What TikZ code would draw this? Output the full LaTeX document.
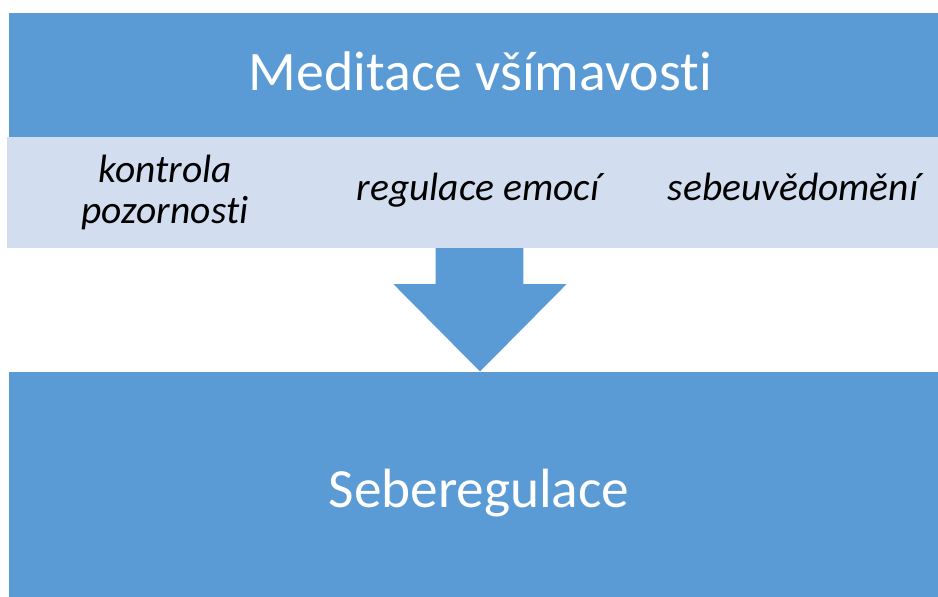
\documentclass[tikz,border=0pt]{standalone}
\usepackage{fontspec}
\setmainfont{Carlito}[Ligatures={NoCommon}]
\definecolor{mainblue}{HTML}{5B9BD5}
\definecolor{lightband}{HTML}{D2DEEF}
\begin{document}
\begin{tikzpicture}[x=1pt,y=-1pt,
  bigtext/.style={text=white,font=\fontsize{55.8}{60}\selectfont,anchor=base,inner sep=0},
  smalltext/.style={text=black,font=\fontsize{39.5}{41}\selectfont\itshape,anchor=base,inner sep=0,align=center}]
\useasboundingbox (0,0) rectangle (938,597);
\fill[mainblue] (9,12.5) rectangle (938,137);
\fill[lightband] (7,137) rectangle (938,248);
\fill[mainblue] (435.7,248) -- (523.3,248) -- (523.3,284) -- (566.7,284) -- (480,371.5) -- (393.3,284) -- (435.7,284) -- cycle;
\fill[mainblue] (9,372) rectangle (938,597);
\node[bigtext] (title) at (480.5,90) {Meditace všímavosti};
\node[bigtext,font=\fontsize{55.3}{60}\selectfont] (bottom) at (479,507) {Seberegulace};
\node[smalltext] (k1) at (165,182) {kontrola};
\node[smalltext] (k2) at (165,223) {pozornosti};
\node[smalltext] (r) at (478,200) {regulace emocí};
\node[smalltext] (s) at (793,200) {sebeuvědomění};
\end{tikzpicture}
\end{document}
